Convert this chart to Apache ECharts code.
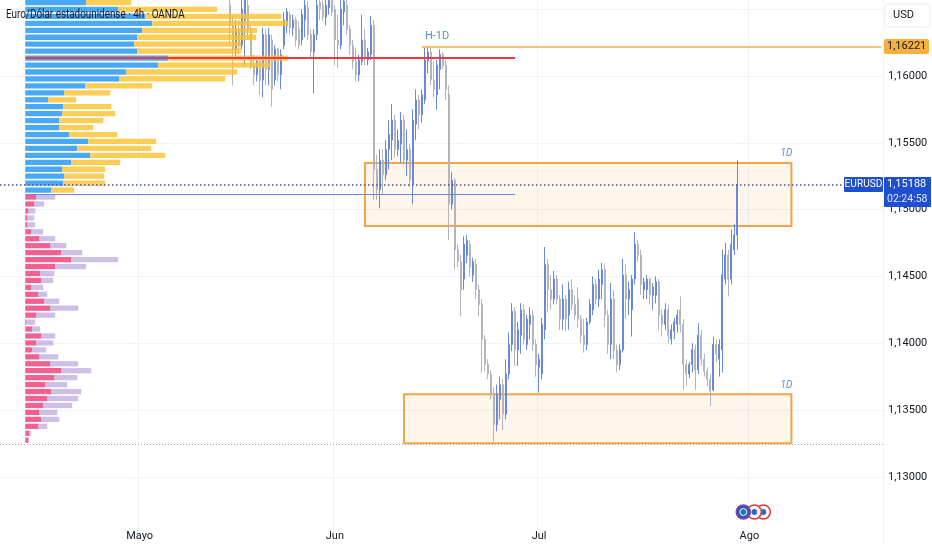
<!DOCTYPE html>
<html><head><meta charset="utf-8">
<script src="https://cdn.jsdelivr.net/npm/echarts@6/dist/echarts.min.js"></script>
<style>html,body{margin:0;padding:0;background:#fff}#c{width:932px;height:550px}</style>
</head><body><div id="c"></div><script>
const FONT = "Roboto, 'Liberation Sans', sans-serif";
const title = 'Euro/Dólar estadounidense · 4h · OANDA';
const currency = 'USD';
const symbol = 'EURUSD';
const countdown = '02:24:58';

// time axis (bar slots) and month tick labels
const barCount = 294;
const monthLabels = ['Mayo', 'Jun', 'Jul', 'Ago'];
const monthBars = [46, 111, 179, 249];

// price axis
const yMin = 1.125, yMax = 1.17, yStep = 0.005;

// candles: [open, close, low, high], first one at bar firstBar
const firstBar = 76;
const candles = [
[1.1653,1.1638,1.1623,1.1665],[1.1638,1.1620,1.1593,1.1646],[1.1620,1.1635,1.1612,1.1642],[1.1635,1.1623,1.1616,1.1642],
[1.1623,1.1650,1.1620,1.1657],[1.1642,1.1657,1.1608,1.1661],[1.1653,1.1635,1.1627,1.1657],[1.1635,1.1608,1.1605,1.1638],
[1.1608,1.1601,1.1593,1.1616],[1.1601,1.1611,1.1596,1.1614],[1.1611,1.1597,1.1586,1.1614],[1.1597,1.1631,1.1584,1.1636],
[1.1631,1.1605,1.1593,1.1635],[1.1605,1.1631,1.1593,1.1636],[1.1627,1.1590,1.1577,1.1631],[1.1597,1.1620,1.1593,1.1623],
[1.1620,1.1601,1.1596,1.1621],[1.1601,1.1616,1.1590,1.1620],[1.1623,1.1642,1.1620,1.1648],[1.1638,1.1648,1.1632,1.1651],
[1.1646,1.1636,1.1631,1.1648],[1.1636,1.1642,1.1630,1.1646],[1.1642,1.1627,1.1622,1.1644],[1.1635,1.1623,1.1620,1.1641],
[1.1627,1.1646,1.1623,1.1650],[1.1642,1.1653,1.1629,1.1657],[1.1651,1.1631,1.1627,1.1656],[1.1631,1.1618,1.1614,1.1635],
[1.1618,1.1631,1.1587,1.1635],[1.1631,1.1653,1.1627,1.1657],[1.1655,1.1650,1.1642,1.1661],[1.1653,1.1644,1.1641,1.1661],
[1.1644,1.1653,1.1638,1.1657],[1.1651,1.1661,1.1646,1.1665],[1.1657,1.1648,1.1645,1.1661],[1.1650,1.1627,1.1608,1.1653],
[1.1627,1.1623,1.1606,1.1646],[1.1623,1.1650,1.1620,1.1657],[1.1648,1.1656,1.1638,1.1661],[1.1653,1.1635,1.1631,1.1657],
[1.1635,1.1623,1.1616,1.1638],[1.1623,1.1611,1.1605,1.1627],[1.1611,1.1601,1.1596,1.1621],[1.1601,1.1612,1.1596,1.1616],
[1.1611,1.1627,1.1608,1.1646],[1.1627,1.1614,1.1608,1.1635],[1.1612,1.1618,1.1608,1.1621],[1.1616,1.1638,1.1612,1.1645],
[1.1638,1.1530,1.1507,1.1642],[1.1530,1.1515,1.1507,1.1541],[1.1515,1.1537,1.1501,1.1545],[1.1537,1.1526,1.1511,1.1545],
[1.1526,1.1545,1.1522,1.1552],[1.1545,1.1556,1.1530,1.1567],[1.1552,1.1567,1.1537,1.1579],[1.1567,1.1545,1.1539,1.1571],
[1.1545,1.1552,1.1540,1.1560],[1.1549,1.1567,1.1535,1.1573],[1.1567,1.1537,1.1534,1.1571],[1.1537,1.1545,1.1525,1.1560],
[1.1545,1.1522,1.1517,1.1549],[1.1519,1.1567,1.1504,1.1575],[1.1564,1.1582,1.1552,1.1590],[1.1582,1.1571,1.1560,1.1586],
[1.1571,1.1586,1.1565,1.1590],[1.1582,1.1612,1.1579,1.1621],[1.1611,1.1618,1.1602,1.1622],[1.1618,1.1597,1.1593,1.1621],
[1.1597,1.1590,1.1584,1.1611],[1.1586,1.1608,1.1575,1.1612],[1.1605,1.1616,1.1590,1.1620],[1.1616,1.1608,1.1605,1.1618],
[1.1608,1.1590,1.1582,1.1612],[1.1586,1.1504,1.1477,1.1593],[1.1504,1.1522,1.1500,1.1528],[1.1522,1.1470,1.1455,1.1524],
[1.1470,1.1461,1.1457,1.1474],[1.1461,1.1440,1.1420,1.1466],[1.1448,1.1474,1.1440,1.1480],[1.1466,1.1477,1.1460,1.1481],
[1.1474,1.1457,1.1450,1.1477],[1.1451,1.1461,1.1446,1.1464],[1.1459,1.1440,1.1433,1.1463],[1.1440,1.1429,1.1420,1.1444],
[1.1429,1.1403,1.1378,1.1433],[1.1403,1.1384,1.1379,1.1406],[1.1384,1.1377,1.1373,1.1388],[1.1377,1.1362,1.1358,1.1380],
[1.1362,1.1339,1.1326,1.1367],[1.1339,1.1362,1.1334,1.1369],[1.1358,1.1369,1.1343,1.1375],[1.1369,1.1347,1.1335,1.1373],
[1.1347,1.1377,1.1343,1.1388],[1.1377,1.1399,1.1373,1.1408],[1.1399,1.1424,1.1394,1.1430],[1.1424,1.1395,1.1383,1.1427],
[1.1395,1.1410,1.1383,1.1416],[1.1406,1.1425,1.1392,1.1430],[1.1425,1.1403,1.1399,1.1429],[1.1399,1.1418,1.1395,1.1421],
[1.1414,1.1421,1.1403,1.1427],[1.1421,1.1399,1.1394,1.1425],[1.1399,1.1384,1.1375,1.1403],[1.1382,1.1388,1.1363,1.1392],
[1.1377,1.1414,1.1373,1.1419],[1.1410,1.1459,1.1403,1.1472],[1.1459,1.1440,1.1423,1.1463],[1.1440,1.1433,1.1425,1.1451],
[1.1433,1.1448,1.1429,1.1454],[1.1448,1.1433,1.1429,1.1451],[1.1433,1.1418,1.1410,1.1436],[1.1418,1.1433,1.1410,1.1444],
[1.1433,1.1418,1.1409,1.1436],[1.1421,1.1440,1.1410,1.1446],[1.1440,1.1429,1.1425,1.1448],[1.1429,1.1421,1.1418,1.1436],
[1.1433,1.1418,1.1412,1.1442],[1.1418,1.1406,1.1400,1.1421],[1.1406,1.1399,1.1393,1.1418],[1.1399,1.1416,1.1395,1.1419],
[1.1416,1.1429,1.1414,1.1433],[1.1425,1.1444,1.1421,1.1450],[1.1444,1.1433,1.1429,1.1448],[1.1433,1.1448,1.1427,1.1455],
[1.1444,1.1455,1.1433,1.1460],[1.1455,1.1421,1.1412,1.1459],[1.1421,1.1399,1.1392,1.1425],[1.1399,1.1433,1.1388,1.1445],
[1.1433,1.1395,1.1388,1.1440],[1.1395,1.1384,1.1378,1.1399],[1.1384,1.1395,1.1380,1.1399],[1.1395,1.1451,1.1393,1.1463],
[1.1451,1.1433,1.1418,1.1459],[1.1433,1.1440,1.1421,1.1446],[1.1425,1.1448,1.1405,1.1451],[1.1448,1.1474,1.1444,1.1483],
[1.1474,1.1466,1.1461,1.1477],[1.1466,1.1444,1.1436,1.1470],[1.1440,1.1446,1.1433,1.1449],[1.1440,1.1448,1.1433,1.1451],
[1.1448,1.1436,1.1429,1.1449],[1.1436,1.1442,1.1425,1.1445],[1.1436,1.1446,1.1430,1.1450],[1.1446,1.1421,1.1410,1.1448],
[1.1421,1.1414,1.1405,1.1425],[1.1414,1.1425,1.1410,1.1430],[1.1425,1.1406,1.1400,1.1429],[1.1403,1.1410,1.1399,1.1414],
[1.1409,1.1416,1.1403,1.1419],[1.1414,1.1421,1.1408,1.1425],[1.1425,1.1414,1.1408,1.1435],[1.1414,1.1384,1.1365,1.1418],
[1.1384,1.1377,1.1368,1.1388],[1.1377,1.1384,1.1374,1.1386],[1.1384,1.1395,1.1378,1.1400],[1.1395,1.1380,1.1365,1.1399],
[1.1380,1.1406,1.1377,1.1415],[1.1406,1.1388,1.1383,1.1410],[1.1388,1.1379,1.1375,1.1392],[1.1379,1.1373,1.1368,1.1382],
[1.1373,1.1364,1.1353,1.1377],[1.1365,1.1399,1.1364,1.1405],[1.1399,1.1392,1.1386,1.1403],[1.1388,1.1399,1.1375,1.1403],
[1.1395,1.1451,1.1378,1.1470],[1.1448,1.1466,1.1444,1.1475],[1.1466,1.1448,1.1435,1.1470],[1.1448,1.1474,1.1444,1.1485],
[1.1470,1.1481,1.1466,1.1489],[1.1481,1.15188,1.1470,1.1537]
];
const currentPrice = 1.15188;

// drawn levels and zones
const h1dLevel = 1.16221, h1dStartBar = 140, h1dText = 'H-1D';
const pocPrice = 1.16135;
const profileBoundaryPrice = 1.15113;
const profileStartBar = 8, profileEndBar = 171;
const lowDottedPrice = 1.13246;
const zoneStartBars = [121, 134];
const zoneEndBar = 263;
const zoneTops = [1.15349, 1.13618];
const zoneBottoms = [1.14877, 1.13251];
const zoneText = '1D';

// volume profile rows (top to bottom), volumes in arbitrary units
const profileTopPrice = 1.1655, profileStep = 0.00052;
const vpUpperUp   = [61,93,120,127,117,112,109,112,143,133,101,94,60,39,23,38,37,34,34,44,63,52,65,46,37,39,38,26];
const vpUpperDown = [45,99,136,136,115,119,107,104,120,112,111,106,67,46,28,48,53,44,34,48,68,74,75,49,43,40,42,23];
const vpLowerUp   = [11,9,3,2,2,6,14,25,36,46,30,15,16,6,13,19,25,11,1,7,16,11,7,14,25,36,29,20,26,22,18,14,16,13,4,3];
const vpLowerDown = [19,10,7,7,8,12,16,16,21,47,31,14,12,12,9,15,28,19,9,8,14,17,14,19,28,30,23,22,30,31,29,18,18,9,2,1];

// ---- build ----
const UP = '#6888dc', DOWN = '#b2b5bd';
const categories = Array.from({length: barCount}, (_, i) => {
  const k = monthBars.indexOf(i);
  return k >= 0 ? monthLabels[k] : ('#' + i);
});
const candleData = candles.map((c, k) => [firstBar + k, c[0], c[1], c[2], c[3]]);
const profileRows = [];
vpUpperUp.forEach((u, k) => profileRows.push([profileStartBar, profileTopPrice - k * profileStep, u, vpUpperDown[k], 0]));
vpLowerUp.forEach((u, k) => {
  const r = vpUpperUp.length + k;
  profileRows.push([profileStartBar, profileTopPrice - r * profileStep, u, vpLowerDown[k], 1]);
});
const profileColors = [['rgba(33,150,243,0.82)', 'rgba(251,192,45,0.8)'], ['rgba(233,30,99,0.7)', 'rgba(126,87,194,0.38)']];
const fmt = v => v.toFixed(5).replace('.', ',');

const gridRight = 49, gridTopPx = -57.6, gridBottomPx = 6.4;
const chart = echarts.init(document.getElementById('c'));
chart.setOption({
  animation: false,
  backgroundColor: '#fff',
  grid: { left: 0, right: gridRight, top: gridTopPx, bottom: gridBottomPx, outerBoundsMode: 'none', containLabel: false },
  xAxis: {
    type: 'category', data: categories, boundaryGap: true,
    axisLine: { show: false }, axisTick: { show: false },
    axisLabel: { interval: (i, v) => monthLabels.includes(v), formatter: v => monthLabels.includes(v) ? v : '',
      margin: -13, fontSize: 11, color: '#131722', fontFamily: FONT },
    splitLine: { show: true, interval: (i, v) => monthLabels.includes(v), lineStyle: { color: '#f0f3fa', width: 1 } }
  },
  yAxis: {
    type: 'value', position: 'right', min: yMin, max: yMax, interval: yStep,
    axisLine: { show: false }, axisTick: { show: false },
    axisLabel: { margin: 5, fontSize: 11, color: '#131722', fontFamily: FONT,
      formatter: v => (v < 1.1299 || v > 1.1601) ? '' : fmt(v) },
    splitLine: { show: true, showMinLine: false, showMaxLine: false, lineStyle: { color: '#f0f3fa', width: 1 } }
  },
  series: [
    {
      type: 'candlestick', z: 2, data: candleData, encode: { x: 0, y: [1, 2, 3, 4] },
      barWidth: 1.8,
      itemStyle: { color: UP, color0: DOWN, borderColor: UP, borderColor0: DOWN, borderWidth: 1 },
      markArea: {
        silent: true, label: { show: false },
        itemStyle: { color: 'rgba(245,124,0,0.08)', borderColor: '#f2a548', borderWidth: 2 },
        data: zoneStartBars.map((s, k) => [{ coord: [s, zoneTops[k]] }, { coord: [zoneEndBar, zoneBottoms[k]] }])
      },
      markLine: {
        silent: true, symbol: 'none', precision: 5, label: { show: false },
        data: [
          [{ coord: [profileStartBar, pocPrice], lineStyle: { color: '#f23645', width: 2, type: 'solid' } }, { coord: [profileEndBar, pocPrice] }],
          [{ coord: [profileStartBar, profileBoundaryPrice], lineStyle: { color: '#6a87dc', width: 1, type: 'solid' } }, { coord: [profileEndBar, profileBoundaryPrice] }],
          [{ coord: [h1dStartBar, h1dLevel], lineStyle: { color: '#f5ac45', width: 1.6, type: 'solid' } }, { coord: [barCount - 1, h1dLevel] }],
          { yAxis: currentPrice, lineStyle: { color: '#4a4fa3', width: 1.5, type: [1.5, 2.5] } },
          { yAxis: lowDottedPrice, lineStyle: { color: '#9ea1aa', width: 1, type: [1, 2] } }
        ]
      }
    },
    {
      type: 'custom', z: 3, silent: true, data: profileRows, encode: { x: 0, y: 1 },
      renderItem: (params, api) => {
        const p = api.value(1), up = api.value(2), dn = api.value(3), g = api.value(4);
        const a = api.coord([profileStartBar, p + profileStep / 2]);
        const b = api.coord([profileStartBar, p - profileStep / 2]);
        const rowH = b[1] - a[1], h = rowH * 0.76, y = a[1] + (rowH - h) / 2;
        const x0 = a[0] - 0.3;
        const c = profileColors[g];
        return { type: 'group', children: [
          { type: 'rect', shape: { x: x0, y: y, width: up, height: h }, style: { fill: c[0] } },
          { type: 'rect', shape: { x: x0 + up, y: y, width: dn, height: h }, style: { fill: c[1] } }
        ] };
      }
    }
  ]
});

// price tags and text annotations placed from data through the axes
const P = (i, p) => chart.convertToPixel({ xAxisIndex: 0, yAxisIndex: 0 }, [i, p]);
const rightEdge = 932 - gridRight;
const yH = P(0, h1dLevel)[1];
const yC = P(0, currentPrice)[1];
const xH = P(h1dStartBar, h1dLevel)[0];
const xZ = P(zoneEndBar, 0)[0];
const TAG_BLUE = '#1f4fd1';
const g = [
  { type: 'text', x: 6, y: 15, scaleX: 0.76, style: { text: title, fontSize: 13, fontFamily: FONT, fill: '#131722', verticalAlign: 'middle' }, z: 20 },
  { type: 'rect', shape: { x: rightEdge + 2, y: 4, width: 45, height: 23, r: 3 }, style: { fill: '#fff', stroke: '#eceef2' }, z: 10 },
  { type: 'text', x: rightEdge + 10, y: 15.5, style: { text: currency, fontSize: 11, fontFamily: FONT, fill: '#131722', verticalAlign: 'middle' }, z: 11 },
  { type: 'rect', shape: { x: rightEdge + 1, y: yH - 7.5, width: 45, height: 15, r: 2 }, style: { fill: '#f8b03c' }, z: 10 },
  { type: 'text', x: rightEdge + 4, y: yH, style: { text: fmt(h1dLevel), fontSize: 11, fontFamily: FONT, fill: '#131722', verticalAlign: 'middle' }, z: 11 },
  { type: 'text', x: xH + 3, y: yH - 10, style: { text: h1dText, fontSize: 11, fontFamily: FONT, fill: '#4f93e3', verticalAlign: 'middle' }, z: 11 },
  { type: 'rect', shape: { x: rightEdge - 39, y: yC - 7.5, width: 39, height: 15, r: 1 }, style: { fill: TAG_BLUE }, z: 10 },
  { type: 'text', x: rightEdge - 19.5, y: yC, scaleX: 0.88, style: { text: symbol, fontSize: 11.5, fontFamily: FONT, fill: '#fff', align: 'center', verticalAlign: 'middle' }, z: 11 },
  { type: 'rect', shape: { x: rightEdge + 1, y: yC - 7.5, width: 47, height: 30, r: 1 }, style: { fill: TAG_BLUE }, z: 10 },
  { type: 'text', x: rightEdge + 4, y: yC, style: { text: fmt(currentPrice), fontSize: 11, fontFamily: FONT, fill: '#fff', verticalAlign: 'middle' }, z: 11 },
  { type: 'text', x: rightEdge + 4, y: yC + 14.5, style: { text: countdown, fontSize: 10.5, fontFamily: FONT, fill: '#dfe6fb', verticalAlign: 'middle' }, z: 11 }
];
zoneTops.forEach(t => {
  const y = P(0, t)[1];
  g.push({ type: 'text', x: xZ + 1, y: y - 9, style: { text: zoneText, fontSize: 10, fontStyle: 'italic', fontFamily: FONT, fill: '#5a8de3', align: 'right', verticalAlign: 'middle' }, z: 11 });
});
// event icons near the last bar
const xi = P(245, 0)[0];
[[xi + 26, '#fff', '#e53935'], [xi + 17, '#fff', '#e53935'], [xi + 6, '#1f5db3', '#8e3fb5']].forEach((c, k) => {
  g.push({ type: 'circle', shape: { cx: c[0], cy: 512, r: 7 }, style: { fill: c[1], stroke: c[2], lineWidth: 1.6 }, z: 12 + k });
  g.push({ type: 'circle', shape: { cx: c[0], cy: 512, r: 3.5 }, style: { fill: k === 2 ? '#2b6cc4' : '#3b63b8', stroke: '#fff', lineWidth: 1 }, z: 12 + k });
});
chart.setOption({ graphic: g });
</script></body></html>
